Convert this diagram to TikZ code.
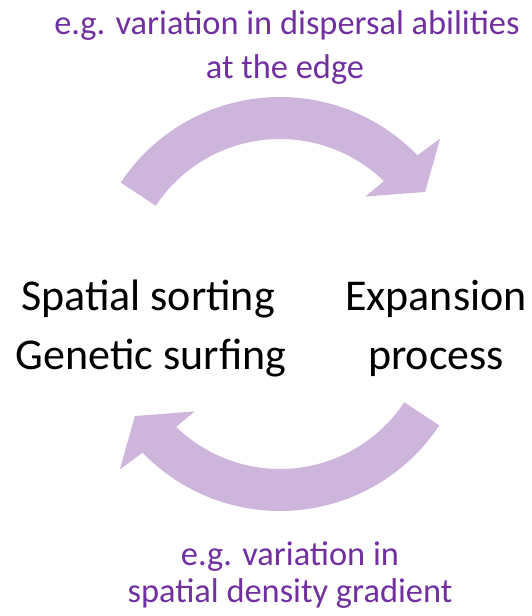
\documentclass[tikz,border=0pt]{standalone}
\usepackage{fontspec}
\setmainfont{Carlito}
\usetikzlibrary{positioning}
\definecolor{notepurple}{RGB}{112,48,160}
\definecolor{arrowpurple}{RGB}{206,181,219}
\tikzset{
    remark/.style={
        text=notepurple,
        font=\fontsize{25.8}{31}\selectfont,
        inner sep=0pt,
        anchor=base
    },
    topic/.style={
        text=black,
        font=\fontsize{33}{40}\selectfont,
        inner sep=0pt,
        anchor=base
    },
    cyclearrow/.style={
        fill=arrowpurple,
        draw=none
    }
}
\newcommand{\cyclearrowat}[2]{%
  \fill[cyclearrow,shift={#1},rotate=#2]
    (146.5:191) arc[start angle=146.5,end angle=44,radius=191]
    -- (43:219) -- (33.5:174) -- (47:125) -- (45.8:149)
    arc[start angle=45.8,end angle=146.5,radius=149] -- cycle;}

\begin{document}
\begin{tikzpicture}[x=0.75pt,y=0.75pt]
\useasboundingbox (0,0) rectangle (531,616);
\cyclearrowat{(280,328)}{0}
\cyclearrowat{(280,296)}{180}
\node[remark] (edge1) at (287,581) {e.g. variation in dispersal abilities};
\node[remark] (edge2) at (285,537) {at the edge};
\node[topic] (sorting) at (148,305) {Spatial sorting};
\node[topic] (surfing) at (151,246) {Genetic surfing};
\node[topic] (expansion) at (436,305) {Expansion};
\node[topic] (process) at (436,246) {process};
\node[remark] (density1) at (290,50) {e.g. variation in};
\node[remark] (density2) at (290,13) {spatial density gradient};
\end{tikzpicture}
\end{document}
